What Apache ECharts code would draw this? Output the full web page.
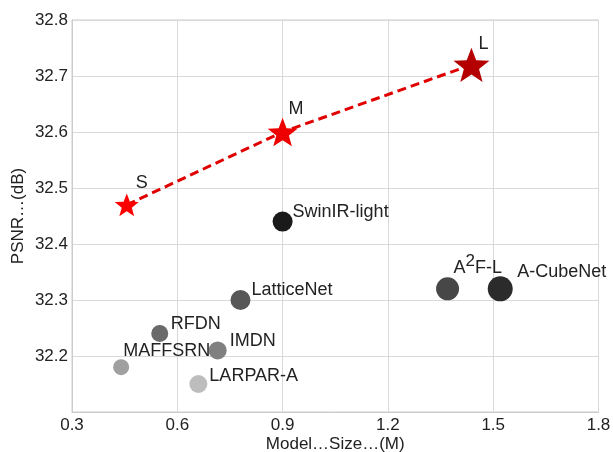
<!DOCTYPE html>
<html>
<head>
<meta charset="utf-8">
<script src="https://cdn.jsdelivr.net/npm/echarts@6/dist/echarts.min.js"></script>
<style>
  html, body { margin: 0; padding: 0; background: #fff; }
  #chart { width: 613px; height: 452px; }
</style>
</head>
<body>
<div id="chart"></div>
<script>
// other models
const modelNames = ['SwinIR-light', 'A²F-L', 'A-CubeNet', 'LatticeNet', 'RFDN', 'IMDN', 'MAFFSRN', 'LARPAR-A']
const modelSizes = [0.90, 1.37, 1.52, 0.78, 0.55, 0.715, 0.44, 0.66]
const modelPsnr = [32.44, 32.32, 32.32, 32.30, 32.24, 32.21, 32.18, 32.15]

// ours (S / M / L)
const oursNames = ['S', 'M', 'L']
const oursSizes = [0.456, 0.90, 1.438]
const oursPsnr = [32.47, 32.60, 32.72]

// style only
const modelColors = ['#1a1a1a', '#474747', '#2b2b2b', '#575757', '#6a6a6a', '#808080', '#a0a0a0', '#bdbdbd']
const modelMarker = [20, 23, 25, 20, 17, 18, 16, 18]
const modelLabelShift = [[10, -10], [6, -21], [17, -17], [11, -10], [11, -10], [12, -9], [2, -16], [11, -8]]
const oursColors = ['#ff0000', '#ee0000', '#b40000']
const oursMarker = [24, 30, 36]
const oursLabelShift = [[9, -22], [6, -23], [7, -21]]

const STAR = 'path://M50 0 L62.5 33.5 L97.55 34.55 L70 56.5 L79.39 90.45 L50 71 L20.61 90.45 L30 56.5 L2.45 34.55 L37.5 33.5 Z'
const FONT = 'Liberation Sans, Arial, sans-serif'
const TXT = '#222222'

let modelData = modelNames.map((n, i) => ({
  name: n,
  value: [modelSizes[i], modelPsnr[i]],
  symbolSize: modelMarker[i],
  itemStyle: { color: modelColors[i], opacity: 1 },
  label: { offset: [modelLabelShift[i][0] - modelMarker[i] / 2, modelLabelShift[i][1]] }
}))

let oursData = oursNames.map((n, i) => ({
  name: n,
  value: [oursSizes[i], oursPsnr[i]],
  symbolSize: oursMarker[i],
  itemStyle: { color: oursColors[i], opacity: 1 },
  label: { offset: [oursLabelShift[i][0] - oursMarker[i] / 2, oursLabelShift[i][1]] }
}))

let labelStyle = {
  show: true,
  position: 'right',
  distance: 0,
  color: TXT,
  fontSize: 18,
  fontFamily: FONT,
  formatter: p => p.name.replace('²', '{sup|2}'),
  rich: {
    sup: { fontSize: 17, fontFamily: FONT, color: TXT, padding: [0, 0, 12, 0] }
  }
}

let option = {
  animation: false,
  backgroundColor: '#fff',
  grid: {
    left: 72,
    right: 14.5,
    top: 20,
    bottom: 40,
    outerBoundsMode: 'none',
    containLabel: false,
    show: true,
    borderColor: '#cccccc',
    borderWidth: 1
  },
  xAxis: {
    type: 'value',
    min: 0.3,
    max: 1.8,
    interval: 0.3,
    name: 'Model…Size…(M)',
    nameLocation: 'middle',
    nameGap: 24,
    nameMoveOverlap: false,
    nameTextStyle: { fontSize: 17, color: TXT, fontFamily: FONT },
    axisLine: { show: true, lineStyle: { color: '#cccccc' } },
    axisTick: { show: false },
    axisLabel: {
      fontSize: 17, color: TXT, fontFamily: FONT, margin: 5,
      formatter: v => (Math.round(v * 10) / 10).toFixed(1)
    },
    splitLine: { show: true, lineStyle: { color: '#d9d9d9', width: 1 } }
  },
  yAxis: {
    type: 'value',
    min: 32.1,
    max: 32.8,
    interval: 0.1,
    name: 'PSNR…(dB)',
    nameLocation: 'middle',
    nameGap: 45,
    nameMoveOverlap: false,
    nameTextStyle: { fontSize: 17, color: TXT, fontFamily: FONT },
    axisLine: { show: true, lineStyle: { color: '#cccccc' } },
    axisTick: { show: false },
    axisLabel: {
      fontSize: 17, color: TXT, fontFamily: FONT, margin: 4,
      showMinLabel: false,
      formatter: v => (Math.round(v * 10) / 10).toFixed(1)
    },
    splitLine: { show: true, lineStyle: { color: '#d9d9d9', width: 1 } }
  },
  series: [
    {
      type: 'line',
      data: oursSizes.map((x, i) => [x, oursPsnr[i]]),
      showSymbol: false,
      symbol: 'none',
      lineStyle: { color: '#e00000', width: 3, type: [9, 5] },
      z: 2
    },
    {
      type: 'scatter',
      data: modelData,
      symbol: 'circle',
      label: labelStyle,
      z: 3
    },
    {
      type: 'scatter',
      data: oursData,
      symbol: STAR,
      symbolKeepAspect: true,
      label: labelStyle,
      z: 4
    }
  ]
}

let myChart = echarts.init(document.getElementById('chart'))
myChart.setOption(option)
</script>
</body>
</html>
